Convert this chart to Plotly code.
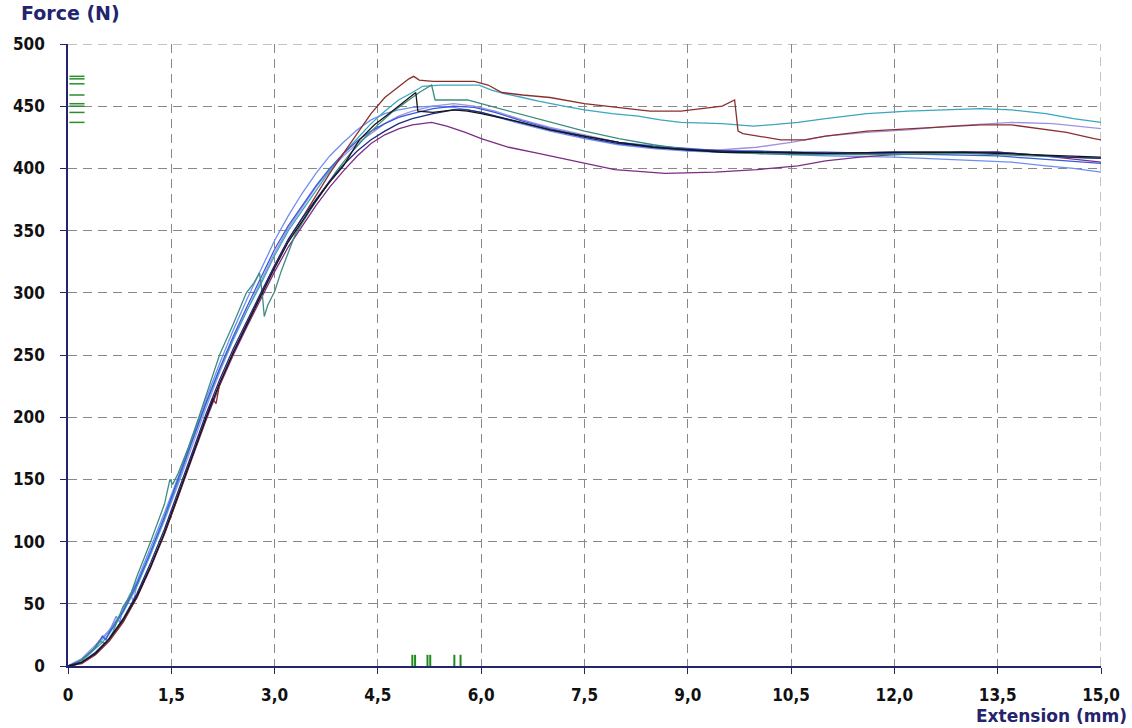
import plotly.graph_objects as go

# ---- data ----
x_ticks = [0, 1.5, 3.0, 4.5, 6.0, 7.5, 9.0, 10.5, 12.0, 13.5, 15.0]
x_tick_text = ["0", "1,5", "3,0", "4,5", "6,0", "7,5", "9,0", "10,5", "12,0", "13,5", "15,0"]
y_ticks = [0, 50, 100, 150, 200, 250, 300, 350, 400, 450, 500]

brown = [(0,0),(0.1,1),(0.2,2),(0.4,9),(0.6,20),(0.8,35),(1.0,55),(1.2,80),(1.4,106),(1.6,136),(1.8,168),
         (2.0,198),(2.1,215),(2.15,211),(2.2,226),(2.4,252),(2.6,276),(2.8,299),(3.0,322),(3.2,343),(3.4,360),(3.6,378),(3.8,396),
         (4.0,412),(4.2,428),(4.4,444),(4.6,457),(4.8,466),(4.95,472),(5.02,474),(5.1,471),(5.3,470),(5.6,470),
         (5.9,470),(6.1,467),(6.3,461),(6.6,459),(7.0,457),(7.5,452),(8.0,449),(8.45,446),(8.9,446),(9.2,448),
         (9.5,450),(9.68,455),(9.73,430),(9.8,428),(10.0,426),(10.35,423),(10.7,423),(11.0,426),(11.6,430),
         (12.2,432),(12.8,434),(13.25,435),(13.7,435),(14.1,432),(14.5,429),(14.9,424),(15.0,423)]

teal = [(0,0),(0.1,2),(0.2,4),(0.4,14),(0.5,19),(0.6,26),(0.8,43),(1.0,64),(1.2,90),(1.4,118),(1.6,148),
        (1.8,180),(2.0,210),(2.2,238),(2.4,263),(2.6,286),(2.8,307),(3.0,330),(3.2,350),(3.4,366),(3.6,382),
        (3.8,398),(4.0,412),(4.2,424),(4.4,436),(4.6,446),(4.8,455),(5.0,461),(5.15,466),(5.4,467),(5.7,467),
        (5.97,467),(6.15,463),(6.35,460),(6.6,457),(6.83,454),(7.2,450),(7.5,447),(7.9,444),(8.28,442),
        (8.6,439),(8.9,437),(9.5,436),(9.95,434),(10.2,435),(10.6,437),(11.0,440),(11.6,444),(12.2,446),
        (12.8,447),(13.25,448),(13.7,447),(14.2,444),(14.6,440),(15.0,437)]

tealgreen = [(0,0),(0.1,2),(0.2,5),(0.35,12),(0.45,20),(0.55,18),(0.65,27),(0.8,48),(0.9,56),(1.0,72),
             (1.2,100),(1.4,130),(1.48,150),(1.52,146),(1.6,155),(1.75,176),(1.9,200),(2.05,225),(2.2,250),
             (2.4,275),(2.59,300),(2.7,308),(2.78,316),(2.82,300),(2.85,281),(2.9,290),(3.0,301),(3.1,318),
             (3.2,333),(3.3,347),(3.5,365),(3.7,382),(3.9,398),(4.1,412),(4.3,424),(4.5,435),(4.7,445),
             (4.9,453),(5.1,461),(5.28,467),(5.33,455),(5.5,455),(5.8,455),(6.0,452),(6.4,446),(6.83,440),
             (7.2,434),(7.5,430),(8.0,424),(8.5,419),(9.0,415),(9.5,413),(10.0,412),(10.5,411),(11.0,411),
             (12.0,411),(13.0,412),(13.5,411),(14.0,410),(14.5,409),(15.0,408)]

black = [(0,0),(0.1,1),(0.2,3),(0.4,10),(0.6,22),(0.8,37),(1.0,56),(1.2,80),(1.4,107),(1.6,137),(1.8,168),
         (2.0,199),(2.2,227),(2.4,252),(2.6,275),(2.8,297),(3.0,320),(3.2,341),(3.4,358),(3.6,374),(3.8,389),
         (4.0,402),(4.23,423),(4.45,435),(4.66,444),(4.85,452),(5.05,461),(5.08,446),(5.3,445),(5.6,447),
         (5.8,446),(6.0,444),(6.5,438),(7.0,431),(7.5,426),(8.0,421),(8.5,417),(9.0,415),(9.5,413),(10.0,413),
         (10.5,413),(11.0,412),(12.0,413),(13.0,413),(13.5,412),(14.0,411),(14.5,410),(15.0,409)]

darkblue = [(0,0),(0.1,2),(0.2,3),(0.4,11),(0.6,22),(0.8,38),(1.0,58),(1.2,83),(1.4,110),(1.6,140),(1.8,171),
            (2.0,202),(2.2,230),(2.4,255),(2.6,278),(2.8,300),(3.0,322),(3.2,343),(3.4,360),(3.6,375),(3.8,390),
            (4.0,403),(4.2,414),(4.4,423),(4.6,430),(4.8,436),(5.0,440),(5.3,444),(5.6,447),(5.8,447),(6.0,445),
            (6.5,438),(7.0,431),(7.5,425),(8.0,420),(8.5,417),(9.0,415),(9.5,414),(10.0,413),(10.5,412),
            (11.0,412),(12.0,413),(13.0,413),(13.5,413),(14.0,411),(14.5,409),(15.0,408)]

medblue = [(0,0),(0.1,2),(0.2,5),(0.4,15),(0.5,24),(0.55,21),(0.6,27),(0.8,44),(1.0,66),(1.2,92),(1.4,120),(1.6,150),(1.8,181),
           (2.0,211),(2.2,239),(2.4,265),(2.6,289),(2.8,312),(3.0,335),(3.2,354),(3.4,370),(3.6,386),(3.8,400),
           (4.0,412),(4.2,422),(4.4,430),(4.6,436),(4.8,441),(5.0,444),(5.3,448),(5.6,450),(5.9,449),(6.2,445),
           (6.6,438),(7.0,432),(7.5,426),(8.0,421),(8.5,418),(9.0,416),(9.5,414),(10.0,414),(10.5,413),
           (11.0,413),(12.0,412),(13.0,411),(13.5,410),(14.0,408),(14.5,406),(15.0,404)]

lightblue = [(0,0),(0.1,3),(0.2,5),(0.4,15),(0.6,28),(0.7,40),(0.75,35),(0.8,46),(1.0,68),(1.2,95),(1.4,123),(1.6,152),(1.8,183),
             (2.0,214),(2.2,243),(2.4,270),(2.6,295),(2.8,318),(3.0,342),(3.2,362),(3.4,380),(3.6,396),(3.8,410),
             (4.0,421),(4.2,431),(4.4,439),(4.6,444),(4.8,447),(5.0,449),(5.3,450),(5.6,449),(6.0,445),(6.5,437),
             (7.0,430),(7.5,424),(8.0,419),(8.5,416),(9.0,414),(9.5,413),(10.0,412),(10.5,411),(11.0,410),
             (12.0,409),(13.0,407),(13.7,405),(14.2,402),(14.6,400),(15.0,397)]

lavender = [(0,0),(0.1,3),(0.2,6),(0.4,17),(0.6,29),(0.8,45),(0.9,58),(0.95,52),(1.0,65),(1.2,90),(1.4,117),(1.6,146),(1.8,177),
            (2.0,207),(2.2,236),(2.4,262),(2.6,286),(2.8,309),(3.0,332),(3.2,352),(3.4,369),(3.6,385),(3.8,399),
            (4.0,410),(4.2,420),(4.4,428),(4.6,436),(4.8,442),(5.0,446),(5.3,450),(5.6,452),(5.9,450),(6.2,446),
            (6.6,439),(7.0,433),(7.5,427),(8.0,421),(8.5,417),(9.0,415),(9.5,415),(10.0,417),(10.5,421),
            (11.0,426),(11.6,429),(12.2,431),(12.8,434),(13.7,437),(14.3,436),(15.0,432)]

purple = [(0,0),(0.1,1),(0.2,3),(0.4,10),(0.6,21),(0.8,36),(1.0,55),(1.2,79),(1.4,106),(1.6,136),(1.8,167),
          (2.0,197),(2.2,225),(2.4,250),(2.6,273),(2.8,295),(3.0,317),(3.2,337),(3.4,354),(3.6,370),(3.8,385),
          (4.0,398),(4.2,410),(4.4,420),(4.6,427),(4.81,432),(5.0,435),(5.28,437),(5.5,434),(5.77,429),
          (6.0,424),(6.4,417),(6.83,412),(7.5,404),(7.94,399),(8.67,396),(9.4,397),(10.0,399),(10.6,402),
          (11.0,406),(11.5,409),(12.0,411),(12.5,412),(13.0,413),(13.5,413),(14.0,411),(14.5,408),(15.0,405)]

# markers: maximum force values (left) and extension at max force (bottom)
max_force_marks = [474, 472, 468, 459, 452, 450, 445, 437]
ext_at_max_marks = [5.0, 5.04, 5.22, 5.26, 5.61, 5.70]

series = [
    ("lavender", lavender, "#A092E2"),
    ("lightblue", lightblue, "#6F8FF0"),
    ("teal", teal, "#3AA6BF"),
    ("purple", purple, "#7D2C85"),
    ("medblue", medblue, "#3A5AD8"),
    ("tealgreen", tealgreen, "#3C8C80"),
    ("brown", brown, "#8B2E2E"),
    ("darkblue", darkblue, "#1B2A88"),
    ("black", black, "#151515"),
]

fig = go.Figure()
for name, pts, col in series:
    fig.add_trace(go.Scatter(
        x=[p[0] for p in pts], y=[p[1] for p in pts], mode="lines",
        line=dict(color=col, width=1.3), name=name, showlegend=False, hoverinfo="skip"))

# left green marks (short horizontal)
mx, my = [], []
for f in max_force_marks:
    mx += [0.02, 0.24, None]
    my += [f, f, None]
fig.add_trace(go.Scatter(x=mx, y=my, mode="lines", line=dict(color="#2E8B2E", width=1.5),
                         showlegend=False, hoverinfo="skip"))
# bottom green marks (short vertical)
bx, by = [], []
for e in ext_at_max_marks:
    bx += [e, e, None]
    by += [0, 9, None]
fig.add_trace(go.Scatter(x=bx, y=by, mode="lines", line=dict(color="#1F8A1F", width=2),
                         showlegend=False, hoverinfo="skip"))

navy = "#23236E"
grid_col = "#888888"
grid_dash = "9px,6px"
tickfont = dict(family="DejaVu Sans Condensed, DejaVu Sans", size=17, color="#111111", weight="bold")

fig.update_xaxes(range=[0, 15], tickvals=x_ticks, ticktext=x_tick_text,
                 showgrid=True, gridcolor=grid_col, gridwidth=1, griddash=grid_dash,
                 showline=True, linecolor=navy, linewidth=1.5,
                 ticks="outside", ticklen=6, tickcolor=navy, tickwidth=1.2,
                 tickfont=tickfont, ticklabelstandoff=7, zeroline=False, fixedrange=True)
fig.update_yaxes(range=[0, 500], tickvals=y_ticks,
                 showgrid=True, gridcolor=grid_col, gridwidth=1, griddash=grid_dash,
                 showline=True, linecolor=navy, linewidth=1.5,
                 ticks="outside", ticklen=6, tickcolor=navy, tickwidth=1.2,
                 tickfont=tickfont, ticklabelstandoff=12, zeroline=False, fixedrange=True)

# edge gridlines that plotly suppresses at the range limits
fig.add_shape(type="line", xref="x", yref="y", x0=x_ticks[0], x1=x_ticks[-1], y0=y_ticks[-1], y1=y_ticks[-1],
              line=dict(color=grid_col, width=1, dash=grid_dash), layer="below")
fig.add_shape(type="line", xref="x", yref="y", x0=x_ticks[-1], x1=x_ticks[-1], y0=y_ticks[0], y1=y_ticks[-1],
              line=dict(color=grid_col, width=1, dash=grid_dash), layer="below")

fig.add_annotation(text="Force (N)", xref="paper", yref="paper", x=-0.0463, y=1.069,
                   xanchor="left", yanchor="top", showarrow=False, borderpad=0,
                   font=dict(family="DejaVu Sans", size=19, color=navy, weight="bold"))
fig.add_annotation(text="Extension (mm)", xref="paper", yref="paper", x=1.0265, y=-0.0981,
                   xanchor="right", yanchor="bottom", showarrow=False, borderpad=0,
                   font=dict(family="DejaVu Sans", size=17, color=navy, weight="bold"))

fig.update_layout(width=1132, height=728, autosize=False,
                  margin=dict(l=68, r=28, t=44, b=62),
                  paper_bgcolor="white", plot_bgcolor="white", showlegend=False)

fig.write_html("out.html")
